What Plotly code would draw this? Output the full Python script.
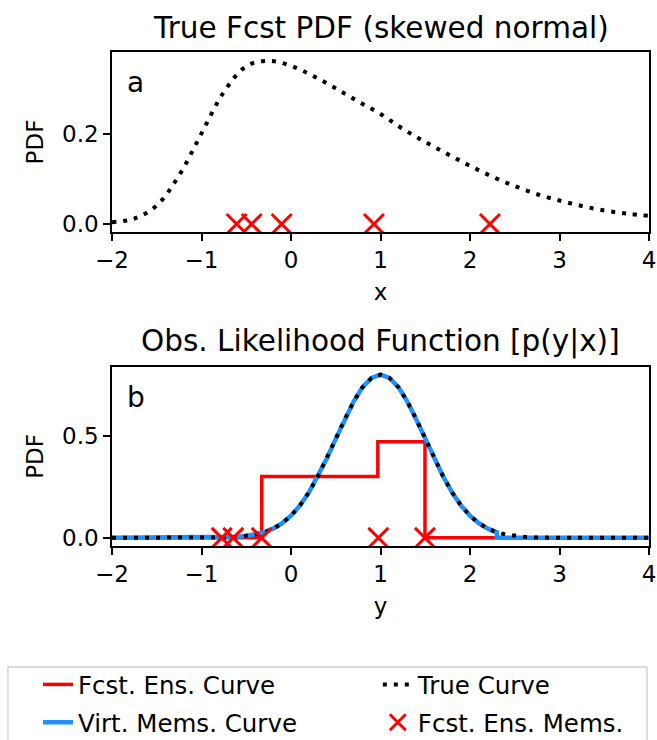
import plotly.graph_objects as go
from plotly.subplots import make_subplots

# ---- data ----
# Panel a: true forecast PDF (skewed normal)
true_x = [-2.0, -1.75, -1.5, -1.25, -1.0, -0.75, -0.5, -0.25, 0.0, 0.25, 0.5, 0.75,
          1.0, 1.25, 1.5, 1.75, 2.0, 2.25, 2.5, 2.75, 3.0, 3.25, 3.5, 3.75, 4.0]
true_pdf = [0.004, 0.012, 0.041, 0.108, 0.201, 0.293, 0.350, 0.362, 0.351, 0.328, 0.301, 0.272,
            0.244, 0.211, 0.182, 0.155, 0.129, 0.105, 0.084, 0.066, 0.052, 0.040, 0.030, 0.023, 0.018]
fcst_members_a = [-0.607, -0.439, -0.104, 0.927, 2.223]

# Panel b: observation likelihood
lik_x = [-2.0, -1.0, -0.9, -0.8, -0.7, -0.6, -0.5, -0.4, -0.3, -0.2, -0.1, 0.0, 0.1, 0.2, 0.3,
         0.4, 0.5, 0.6, 0.7, 0.8, 0.9, 1.0, 1.1, 1.2, 1.3, 1.4, 1.5, 1.6, 1.7, 1.8,
         1.9, 2.0, 2.1, 2.2, 2.3]
lik_true = [0.0, 0.000, 0.001, 0.001, 0.002, 0.005, 0.009, 0.016, 0.027, 0.045, 0.071, 0.108,
            0.158, 0.222, 0.300, 0.388, 0.484, 0.579, 0.666, 0.737, 0.782, 0.798, 0.782, 0.737,
            0.666, 0.579, 0.484, 0.388, 0.300, 0.222, 0.158, 0.108, 0.071, 0.045, 0.027]
true_tail_x = [2.4, 2.5, 2.6, 2.7, 2.8, 3.0, 4.0]
true_tail_y = [0.016, 0.009, 0.005, 0.002, 0.001, 0.0, 0.0]
virt_tail_x = [2.3, 4.0]
virt_tail_y = [0.0, 0.0]

ens_step_x = [-2.0, -0.327, 0.97, 1.497, 4.0]
ens_step_y = [0.0, 0.30, 0.47, 0.0, 0.0]
fcst_members_b = [-0.774, -0.645, -0.327, 0.976, 1.497]

RED = "#ff0000"
BLUE = "#1e90ff"
FONT = "DejaVu Sans"

fig = make_subplots(rows=2, cols=1)

# panel a
fig.add_trace(go.Scatter(x=true_x, y=true_pdf, mode="lines", line_shape="spline",
                         line=dict(color="black", width=4, dash="4px,7px"),
                         showlegend=False), row=1, col=1)
fig.add_trace(go.Scatter(x=fcst_members_a, y=[0] * len(fcst_members_a), mode="markers",
                         marker=dict(symbol="x-thin", size=20, line=dict(color=RED, width=3)),
                         showlegend=False), row=1, col=1)

# panel b
fig.add_trace(go.Scatter(x=ens_step_x, y=ens_step_y, mode="lines", line_shape="hv",
                         line=dict(color=RED, width=3.5), name="Fcst. Ens. Curve",
                         legend="legend", legendgroup="g1", legendrank=1), row=2, col=1)
fig.add_trace(go.Scatter(x=lik_x + virt_tail_x, y=lik_true + virt_tail_y, mode="lines",
                         line=dict(color=BLUE, width=4.5), name="Virt. Mems. Curve",
                         legend="legend", legendgroup="g2", legendrank=2), row=2, col=1)
fig.add_trace(go.Scatter(x=lik_x + true_tail_x, y=lik_true + true_tail_y, mode="lines",
                         line=dict(color="black", width=4, dash="4px,7px"), name="True Curve",
                         legend="legend2", legendgroup="g3", legendrank=1), row=2, col=1)
fig.add_trace(go.Scatter(x=fcst_members_b, y=[0] * len(fcst_members_b), mode="markers",
                         marker=dict(symbol="x-thin", size=20, line=dict(color=RED, width=3)),
                         name="Fcst. Ens. Mems.", legend="legend2", legendgroup="g4",
                         legendrank=2), row=2, col=1)

axis_common = dict(showline=True, linecolor="black", linewidth=1.5, mirror=True,
                   ticks="outside", ticklen=7, tickwidth=1.5, tickcolor="black",
                   showgrid=False, zeroline=False, automargin=False,
                   tickfont=dict(family=FONT, size=23, color="black"))

fig.update_xaxes(range=[-2, 4], tickvals=[-2, -1, 0, 1, 2, 3, 4], **axis_common)
fig.update_yaxes(**axis_common)

legend_common = dict(orientation="v", xanchor="left", yanchor="top",
                     bgcolor="rgba(0,0,0,0)", borderwidth=0, tracegroupgap=3,
                     font=dict(family=FONT, size=24.5, color="black"),
                     traceorder="grouped")

# legend frame (top, left, right edges) in paper coordinates
fx0, fx1, fy_top, fy_bot = -0.1937, 0.9963, -0.2449, -0.42
frame = dict(type="line", xref="paper", yref="paper", line=dict(color="#cccccc", width=1.3),
             layer="above")

fig.update_layout(
    width=657, height=740,
    margin=dict(l=112, r=8, t=52, b=194, autoexpand=False),
    paper_bgcolor="white", plot_bgcolor="white",
    font=dict(family=FONT, color="black"),
    xaxis=dict(domain=[0, 1], title=dict(text="x", font=dict(size=23), standoff=12)),
    yaxis=dict(domain=[0.6356, 1], range=[-0.0178, 0.3816], tickvals=[0.0, 0.2],
               ticktext=["0.0", "0.2"], title=dict(text="PDF", font=dict(size=23), standoff=12)),
    xaxis2=dict(domain=[0, 1], title=dict(text="y", font=dict(size=23), standoff=12)),
    yaxis2=dict(domain=[0, 0.363], range=[-0.04, 0.837], tickvals=[0.0, 0.5],
                ticktext=["0.0", "0.5"], title=dict(text="PDF", font=dict(size=23), standoff=12)),
    legend=dict(x=-0.1378, y=-0.2348, **legend_common),
    legend2=dict(x=0.495, y=-0.2348, **legend_common),
    shapes=[
        dict(x0=fx0, x1=fx1, y0=fy_top, y1=fy_top, **frame),
        dict(x0=fx0, x1=fx0, y0=fy_top, y1=fy_bot, **frame),
        dict(x0=fx1, x1=fx1, y0=fy_top, y1=fy_bot, **frame),
    ],
    annotations=[
        dict(text="True Fcst PDF (skewed normal)", xref="paper", yref="paper",
             x=0.5, y=1.0, yshift=5, xanchor="center", yanchor="bottom", showarrow=False,
             font=dict(family=FONT, size=29.5, color="black")),
        dict(text="Obs. Likelihood Function [p(y|x)]", xref="paper", yref="paper",
             x=0.5, y=0.363, yshift=6, xanchor="center", yanchor="bottom", showarrow=False,
             font=dict(family=FONT, size=29.5, color="black")),
        dict(text="a", xref="x domain", yref="y domain", x=0.025, y=0.83,
             xanchor="left", yanchor="middle", showarrow=False,
             font=dict(family=FONT, size=28, color="black")),
        dict(text="b", xref="x2 domain", yref="y2 domain", x=0.025, y=0.83,
             xanchor="left", yanchor="middle", showarrow=False,
             font=dict(family=FONT, size=28, color="black")),
    ],
)

fig.write_html("out.html", config={"displayModeBar": False},
               post_script="document.body.style.margin='0px';")
